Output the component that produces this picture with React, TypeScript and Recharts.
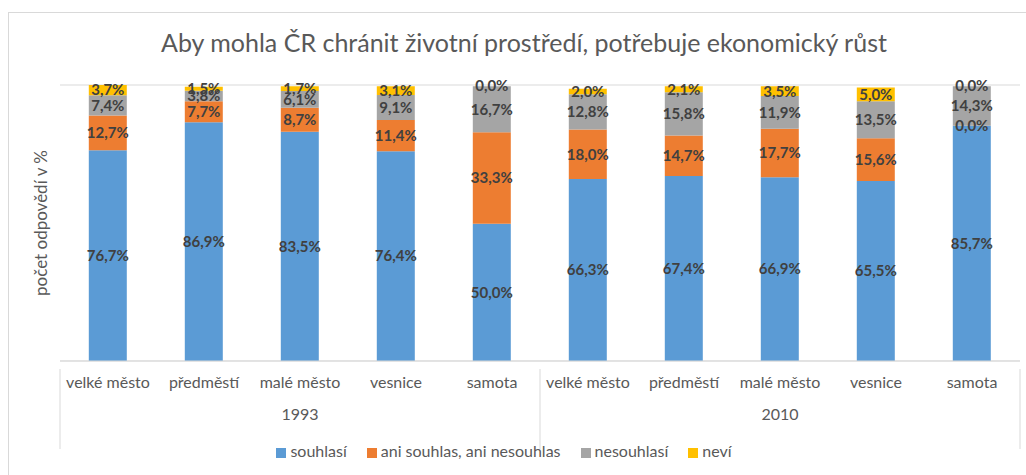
import { BarChart, Bar, XAxis, YAxis, CartesianGrid, Legend, LabelList } from 'recharts';

const categories = [
  'velké město', 'předměstí', 'malé město', 'vesnice', 'samota',
  'velké město', 'předměstí', 'malé město', 'vesnice', 'samota',
];
const years = ['1993', '1993', '1993', '1993', '1993', '2010', '2010', '2010', '2010', '2010'];
const souhlasi = [76.7, 86.9, 83.5, 76.4, 50.0, 66.3, 67.4, 66.9, 65.5, 85.7];
const aniAni = [12.7, 7.7, 8.7, 11.4, 33.3, 18.0, 14.7, 17.7, 15.6, 0.0];
const nesouhlasi = [7.4, 3.8, 6.1, 9.1, 16.7, 12.8, 15.8, 11.9, 13.5, 14.3];
const nevi = [3.7, 1.5, 1.7, 3.1, 0.0, 2.0, 2.1, 3.5, 5.0, 0.0];
const yTicks = [0, 10, 20, 30, 40, 50, 60, 70, 80, 90, 100];
const seriesOrder = ['souhlasi', 'aniAni', 'nesouhlasi', 'nevi'];

const data = categories.map((name, i) => ({
  name,
  year: years[i],
  souhlasi: souhlasi[i],
  aniAni: aniAni[i],
  nesouhlasi: nesouhlasi[i],
  nevi: nevi[i],
}));

const FONT = 'Lato, "Noto Sans", sans-serif';
const fmt = (v: any) => Number(v).toFixed(1).replace('.', ',') + '%';

const labelStyle = { fill: '#404040', fontSize: 15, fontWeight: 700, fontFamily: FONT };

// zero-height segments get no label from recharts, so the segment below draws it at its top edge
function ZeroLabel(props: any) {
  const { x, y, width, value } = props;
  if (Number(value) !== 0) return null;
  return (
    <text x={x + width / 2} y={y + 5} textAnchor="middle" style={labelStyle}>
      {fmt(value)}
    </text>
  );
}

// two-level category axis: name, year under the middle of each group, and group separators
function CategoryTick(props: any) {
  const { x, y, payload, index } = props;
  const half = 48;
  return (
    <g>
      <text x={x} y={y + 19} textAnchor="middle" fill="#595959" fontSize={16} fontFamily={FONT}>
        {payload.value}
      </text>
      {(index === 2 || index === 7) && (
        <text x={x} y={y + 51} textAnchor="middle" fill="#595959" fontSize={16} fontFamily={FONT}>
          {years[index]}
        </text>
      )}
      {(index === 0 || index === 5) && (
        <line x1={x - half} x2={x - half} y1={y} y2={y + 80} stroke="#d9d9d9" />
      )}
      {index === 9 && <line x1={x + half} x2={x + half} y1={y} y2={y + 80} stroke="#d9d9d9" />}
    </g>
  );
}

export default function App() {
  return (
    <div style={{ position: 'absolute', left: 0, top: 0, width: 1026, height: 475, background: '#fff' }}>
      <div style={{ position: 'absolute', left: 8, top: 12, width: 1030, height: 470, border: '1px solid #d9d9d9' }} />
      <div
        style={{
          position: 'absolute', left: 0, top: 27, width: 1048, textAlign: 'center',
          fontFamily: FONT, fontSize: 25, color: '#595959',
        }}
      >
        Aby mohla ČR chránit životní prostředí, potřebuje ekonomický růst
      </div>
      <BarChart
        width={1026}
        height={475}
        data={data}
        margin={{ top: 85, right: 6, left: 8, bottom: 15 }}
        barCategoryGap="30%"
      >
        <CartesianGrid vertical={false} stroke="#d9d9d9" />
        <YAxis
          domain={[0, 100]}
          ticks={yTicks}
          width={52}
          tick={false}
          axisLine={false}
          tickLine={false}
          label={{
            value: 'počet odpovědí v %',
            angle: -90,
            position: 'insideLeft',
            offset: 33,
            fontSize: 17,
            fill: '#595959',
            fontFamily: FONT,
            style: { textAnchor: 'middle', fill: '#595959', fontSize: 17, fontFamily: FONT },
          }}
        />
        <XAxis
          dataKey="name"
          height={80}
          interval={0}
          axisLine={{ stroke: '#d9d9d9' }}
          tickLine={false}
          tick={<CategoryTick />}
        />
        <Legend
          verticalAlign="bottom"
          iconType="square"
          iconSize={10}
          itemSorter={(item: any) => seriesOrder.indexOf(item.dataKey)}
          wrapperStyle={{ fontFamily: FONT, fontSize: 16, color: '#595959' }}
          formatter={(value: string) => <span style={{ color: '#595959', marginRight: 10 }}>{value}</span>}
        />
        <Bar dataKey="souhlasi" name="souhlasí" stackId="a" fill="#5B9BD5" isAnimationActive={false}>
          <LabelList dataKey="souhlasi" position="center" formatter={fmt} style={labelStyle} />
          <LabelList dataKey="aniAni" content={<ZeroLabel />} />
        </Bar>
        <Bar dataKey="aniAni" name="ani souhlas, ani nesouhlas" stackId="a" fill="#ED7D31" isAnimationActive={false}>
          <LabelList dataKey="aniAni" position="center" formatter={fmt} style={labelStyle} />
        </Bar>
        <Bar dataKey="nesouhlasi" name="nesouhlasí" stackId="a" fill="#A5A5A5" isAnimationActive={false}>
          <LabelList dataKey="nesouhlasi" position="center" formatter={fmt} style={labelStyle} />
          <LabelList dataKey="nevi" content={<ZeroLabel />} />
        </Bar>
        <Bar dataKey="nevi" name="neví" stackId="a" fill="#FFC000" isAnimationActive={false}>
          <LabelList dataKey="nevi" position="center" formatter={fmt} style={labelStyle} />
        </Bar>
      </BarChart>
    </div>
  );
}
